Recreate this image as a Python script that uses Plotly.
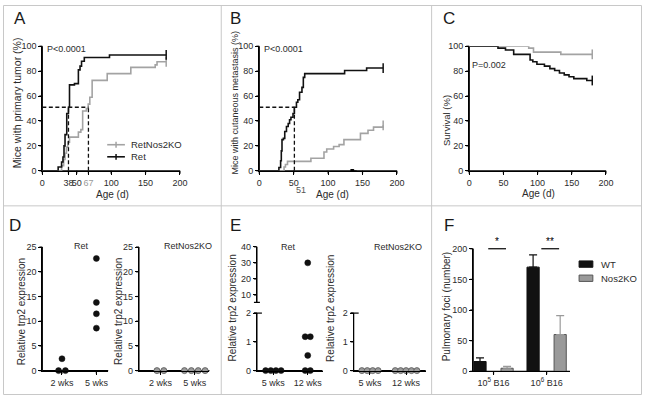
import plotly.graph_objects as go
from collections import Counter

W, H = 650, 400
FONT = "Liberation Sans, Arial, Helvetica, sans-serif"
BLACK = "#111111"
GRAY = "#a3a3a3"
MGRAY = "#9a9a9a"
TXT = "#2b2b2b"

# ---------------- data ----------------
# A: primary tumour incidence (cumulative %, step curves)
a_ret_days = [0, 23, 28, 30, 31.5, 33, 35.5, 38, 39.5, 46.7, 52.4, 54.8, 57, 61, 97.6, 180]
a_ret_pct = [0, 3, 7, 11, 20, 29, 46, 51, 69, 70, 81, 84, 88, 91, 93, 93]
a_ko_days = [0, 28, 31, 33, 35, 37, 39.5, 52.4, 56, 58.6, 64, 66.7, 69, 72.4, 94.3, 128.6, 164, 166.7, 180]
a_ko_pct = [0, 4, 9, 14, 19, 23, 27, 31, 33, 48, 50, 53.5, 59, 72.6, 78, 83, 85, 87.5, 87.5]
a_median_ret, a_median_ko, median_level = 38, 67, 51
a_xticks = [0, 38, 50, 67, 100, 150, 200]
a_xticktext = ["0", "38", "50", "<span style='color:#9a9a9a'>67</span>", "100", "150", "200"]
a_series = ["RetNos2KO", "Ret"]
age_ticks = [0, 50, 100, 150, 200]
pct_ticks = [0, 20, 40, 60, 80, 100]

# B: cutaneous metastasis
b_ret_days = [0, 28.5, 31, 32, 33, 35, 37, 39.5, 42, 44, 46, 49, 51, 54, 56, 58.5, 62, 64, 66, 124, 156, 180]
b_ret_pct = [0, 2.6, 8, 16, 25, 26, 31.5, 35.5, 38, 41, 43, 46, 51, 55, 57, 63, 67, 75, 78, 80.5, 82.5, 82.5]
b_ko_days = [0, 36, 38, 41, 75, 94, 98, 108, 116, 123, 147, 158, 166, 180]
b_ko_pct = [0, 3, 5, 7.5, 10, 15, 17.5, 19.5, 21, 25, 30, 32.5, 35, 36.5]
b_median_ret = 51

# C: survival
c_ret_days = [0, 42, 53, 65, 89, 93, 99, 110, 118, 125, 132, 139, 146, 153, 172, 180]
c_ret_pct = [100, 98.5, 97, 93.5, 89, 87.5, 85.5, 84, 82, 80.5, 78.5, 77, 75.5, 74, 72.5, 72.5]
c_ko_days = [0, 87, 94, 134, 180]
c_ko_pct = [100, 98.5, 95.3, 93.5, 93.5]

# D: relative trp2 expression
d_cats = ["2 wks", "5 wks"]
d_ret = [[2.4, 0, 0], [22.7, 13.8, 11.5, 8.6]]
d_ko = [[0, 0], [0, 0, 0, 0]]
d_yticks = [0, 5, 10, 15, 20, 25]

# E: relative trp2 expression (broken axis)
e_cats = ["5 wks", "12 wks"]
e_ret = [[0, 0, 0, 0], [30, 1.18, 1.18, 0.53, 0, 0]]
e_ko = [[0, 0, 0, 0], [0, 0, 0, 0, 0]]
e_break = 2
e_low_ticks = [0, 1, 2]
e_high_ticks = [10, 20, 30, 40]

# F: pulmonary foci
f_cats = ["10<sup>5</sup> B16", "10<sup>6</sup> B16"]
f_series = ["WT", "Nos2KO"]
f_wt = [16, 170]
f_wt_err = [6, 20]
f_ko = [5, 60]
f_ko_err = [3, 31]
f_sig = ["*", "**"]
f_yticks = [0, 50, 100, 150, 200]


def px(x):
    return x / W


def py(y):
    return 1 - y / H


def spread(vals, center, step):
    counts = Counter(vals)
    seen = Counter()
    out = []
    for v in vals:
        n = counts[v]
        k = seen[v]
        seen[v] += 1
        out.append(center + (k - (n - 1) / 2) * step)
    return out


fig = go.Figure()
NOLEG = dict(showlegend=False, hoverinfo="skip")


def km(days, pct, col, xa, ya):
    fig.add_trace(go.Scatter(x=days, y=pct, mode="lines", line=dict(color=col, width=1.6, shape="hv"),
                             xaxis=xa, yaxis=ya, cliponaxis=False, **NOLEG))
    fig.add_trace(go.Scatter(x=[days[-1]], y=[pct[-1]], mode="markers",
                             marker=dict(symbol="line-ns", size=7, line=dict(color=col, width=1.5)),
                             xaxis=xa, yaxis=ya, cliponaxis=False, **NOLEG))


km(a_ko_days, a_ko_pct, GRAY, "x", "y")
km(a_ret_days, a_ret_pct, BLACK, "x", "y")
km(b_ko_days, b_ko_pct, GRAY, "x2", "y2")
km(b_ret_days, b_ret_pct, BLACK, "x2", "y2")
km(c_ko_days, c_ko_pct, GRAY, "x3", "y3")
km(c_ret_days, c_ret_pct, BLACK, "x3", "y3")

dash = dict(color=BLACK, width=1.3, dash="4px,2.5px")
fig.add_trace(go.Scatter(x=[0, a_median_ko], y=[median_level, median_level], mode="lines", line=dash,
                         xaxis="x", yaxis="y", **NOLEG))
for m in (a_median_ret, a_median_ko):
    fig.add_trace(go.Scatter(x=[m, m], y=[0, median_level], mode="lines", line=dash,
                             xaxis="x", yaxis="y", **NOLEG))
fig.add_trace(go.Scatter(x=[0, b_median_ret], y=[median_level, median_level], mode="lines", line=dash,
                         xaxis="x2", yaxis="y2", **NOLEG))
fig.add_trace(go.Scatter(x=[b_median_ret, b_median_ret], y=[0, median_level], mode="lines", line=dash,
                         xaxis="x2", yaxis="y2", **NOLEG))

ret_marker = dict(color=BLACK, size=6, line=dict(color=BLACK, width=0.5))
ko_marker = dict(color=MGRAY, size=6, line=dict(color="#555555", width=0.8))

for groups, xa, ya, mk in [(d_ret, "x4", "y4", ret_marker), (d_ko, "x5", "y5", ko_marker)]:
    for i, vals in enumerate(groups):
        fig.add_trace(go.Scatter(x=spread(vals, i, 0.2), y=vals, mode="markers", marker=mk,
                                 xaxis=xa, yaxis=ya, cliponaxis=False, **NOLEG))

for groups, xa, ylow, yhigh, mk in [(e_ret, "x6", "y6", "y7", ret_marker), (e_ko, "x8", "y8", "y9", ko_marker)]:
    for i, vals in enumerate(groups):
        xs = spread(vals, i, 0.15)
        lo = [(x, v) for x, v in zip(xs, vals) if v <= e_break]
        hi = [(x, v) for x, v in zip(xs, vals) if v > e_break]
        if lo:
            fig.add_trace(go.Scatter(x=[p[0] for p in lo], y=[p[1] for p in lo], mode="markers", marker=mk,
                                     xaxis=xa, yaxis=ylow, cliponaxis=False, **NOLEG))
        if hi:
            fig.add_trace(go.Scatter(x=[p[0] for p in hi], y=[p[1] for p in hi], mode="markers", marker=mk,
                                     xaxis=xa, yaxis=yhigh, cliponaxis=False, **NOLEG))

fidx = list(range(len(f_cats)))
fig.add_trace(go.Bar(x=fidx, y=f_wt, width=0.23, offset=-0.37, name=f_series[0],
                     marker=dict(color=BLACK, line=dict(color=BLACK, width=1)),
                     error_y=dict(type="data", array=f_wt_err, arrayminus=[0] * len(f_wt), symmetric=False,
                                  color=BLACK, thickness=1.2, width=4),
                     xaxis="x10", yaxis="y10", **NOLEG))
fig.add_trace(go.Bar(x=fidx, y=f_ko, width=0.23, offset=0.14, name=f_series[1],
                     marker=dict(color=MGRAY, line=dict(color="#555555", width=1)),
                     error_y=dict(type="data", array=f_ko_err, arrayminus=[0] * len(f_ko), symmetric=False,
                                  color=MGRAY, thickness=1.2, width=4),
                     xaxis="x10", yaxis="y10", **NOLEG))

RANGES = {}


def ax(name, domain, rng, anchor, tickvals, **kw):
    RANGES[name] = rng
    d = dict(domain=domain, range=rng, anchor=anchor, showline=True, linecolor="#000000", linewidth=1.2,
             ticks="outside", ticklen=3, tickwidth=1.2, tickcolor="#000000", showgrid=False, zeroline=False,
             tickfont=dict(size=9, color=TXT, family=FONT), tickvals=tickvals, tickangle=0, fixedrange=True)
    d.update(kw)
    return d


top_y = [py(170), py(42.3)]
bot_y = [py(375), py(248.3)]
e_low = [py(375), py(316)]
e_high = [py(305), py(248)]

layout = dict(
    width=W, height=H, margin=dict(l=0, r=0, t=0, b=0),
    paper_bgcolor="white", plot_bgcolor="rgba(0,0,0,0)",
    font=dict(family=FONT, size=9, color=TXT),
    showlegend=False,
    xaxis=ax("x", [px(40), px(180)], [0, 200], "y", a_xticks, ticktext=a_xticktext),
    yaxis=ax("y", top_y, [0, 100], "x", pct_ticks),
    xaxis2=ax("x2", [px(260.7), px(400.7)], [0, 200], "y2", age_ticks),
    yaxis2=ax("y2", top_y, [0, 100], "x2", pct_ticks),
    xaxis3=ax("x3", [px(474.3), px(613.3)], [0, 200], "y3", age_ticks),
    yaxis3=ax("y3", top_y, [0, 100], "x3", pct_ticks),
    xaxis4=ax("x4", [px(40), px(107)], [-0.571, 1.343], "y4", [0, 1], ticktext=d_cats),
    yaxis4=ax("y4", bot_y, [0, 25], "x4", d_yticks),
    xaxis5=ax("x5", [px(138.3), px(210)], [-0.623, 1.426], "y5", [0, 1], ticktext=d_cats),
    yaxis5=ax("y5", bot_y, [0, 25], "x5", d_yticks),
    xaxis6=ax("x6", [px(258.3), px(325)], [-0.477, 1.429], "y6", [0, 1], ticktext=e_cats),
    yaxis6=ax("y6", e_low, [0, 2], "x6", e_low_ticks),
    yaxis7=ax("y7", e_high, [5.4, 40], "x6", e_high_ticks),
    xaxis8=ax("x8", [px(356.7), px(430)], [-0.452, 1.545], "y8", [0, 1], ticktext=e_cats),
    yaxis8=ax("y8", e_low, [0, 2], "x8", e_low_ticks),
    yaxis9=ax("y9", e_high, [5.4, 40], "x8", e_high_ticks),
    xaxis10=ax("x10", [px(478.3), px(576.7)], [-0.383, 1.439], "y10", fidx, ticktext=f_cats),
    yaxis10=ax("y10", [py(375.7), py(250)], [0, 200], "x10", f_yticks),
)
fig.update_layout(**layout)

ann = []


def text(x, y, s, size=9, angle=0, anchor="center", color=TXT):
    ann.append(dict(x=px(x), y=py(y), xref="paper", yref="paper", text=s, showarrow=False,
                    font=dict(size=size, color=color, family=FONT), textangle=angle,
                    xanchor=anchor, yanchor="middle"))


for lab, x, y in [("A", 17, 14), ("B", 237, 14), ("C", 454, 14), ("D", 12.5, 226), ("E", 236, 226), ("F", 454, 226)]:
    text(x, y, lab, size=17, color="#1a1a1a")

text(43, 45, "P&lt;0.0001", size=9, anchor="left")
text(263, 45, "P&lt;0.0001", size=9, anchor="left")
text(475, 62, "P=0.002", size=9, anchor="left")

text(14, 100, "Mice with primary tumor (%)", size=10.5, angle=-90)
text(235, 100, "Mice with cutaneous metastasis (%)", size=9, angle=-90)
text(450.7, 119, "Survival (%)", size=9.5, angle=-90)
text(111.7, 194, "Age (d)", size=10)
text(335, 194, "Age (d)", size=10)
text(545, 193, "Age (d)", size=10)
text(303, 189.5, str(b_median_ret), size=9, color="#555555")

text(18.3, 314, "Relative trp2 expression", size=10, angle=-90)
text(116.7, 314, "Relative trp2 expression", size=10, angle=-90)
text(233.3, 311, "Relative trp2 expression", size=10, angle=-90)
text(333.3, 311, "Relative trp2 expression", size=10, angle=-90)
text(450.7, 310, "Pulmonary foci (number)", size=10, angle=-90)

text(80, 247, "Ret", size=9)
text(188, 247, "RetNos2KO", size=9)
text(290, 248, "Ret", size=9)
text(402, 248, "RetNos2KO", size=9)

text(128.3, 143.3, a_series[0], size=9.5, anchor="left")
text(128.3, 155.7, a_series[1], size=9.5, anchor="left")
text(606.7, 265.7, f_series[0], size=9.5, anchor="left")
text(606.7, 280.3, f_series[1], size=9.5, anchor="left")

for i, s in enumerate(f_sig):
    ann.append(dict(x=i + 0.065, y=200, xref="x10", yref="y10", text=s, showarrow=False,
                    font=dict(size=10, color="#000000", family=FONT), yanchor="bottom"))

fig.update_layout(annotations=ann)

shapes = []
AXLINE = dict(color="#000000", width=1.2)


def frac(name, v):
    r0, r1 = RANGES[name]
    return (v - r0) / (r1 - r0)


def axis_shapes(xn, yn, xticks=None, yticks=None):
    """Axis lines and outside tick marks, placed through the axes' own domains/ranges."""
    if xticks is not None:
        shapes.append(dict(type="line", xref=f"{xn} domain", yref=f"{yn} domain", x0=0, x1=1, y0=0, y1=0,
                           line=AXLINE, layer="below"))
        for v in xticks:
            f = frac(xn, v)
            shapes.append(dict(type="line", xref=f"{xn} domain", yref=f"{yn} domain", x0=f, x1=f,
                               ysizemode="pixel", yanchor=0, y0=0, y1=-3, line=AXLINE, layer="below"))
    if yticks is not None:
        shapes.append(dict(type="line", xref=f"{xn} domain", yref=f"{yn} domain", x0=0, x1=0, y0=0, y1=1,
                           line=AXLINE, layer="below"))
        for v in yticks:
            f = frac(yn, v)
            shapes.append(dict(type="line", xref=f"{xn} domain", yref=f"{yn} domain", y0=f, y1=f,
                               xsizemode="pixel", xanchor=0, x0=0, x1=-3, line=AXLINE, layer="below"))


axis_shapes("x", "y", a_xticks, pct_ticks)
axis_shapes("x2", "y2", age_ticks, pct_ticks)
axis_shapes("x3", "y3", age_ticks, pct_ticks)
axis_shapes("x4", "y4", [0, 1], d_yticks)
axis_shapes("x5", "y5", [0, 1], d_yticks)
axis_shapes("x6", "y6", [0, 1], e_low_ticks)
axis_shapes("x6", "y7", None, e_high_ticks)
axis_shapes("x8", "y8", [0, 1], e_low_ticks)
axis_shapes("x8", "y9", None, e_high_ticks)
axis_shapes("x10", "y10", fidx, f_yticks)

# figure border and panel separators
shapes.append(dict(type="rect", xref="paper", yref="paper", x0=px(0.5), x1=px(649.5), y0=py(399.5), y1=py(0.5),
                   line=dict(color="#c8c8c8", width=1), layer="below"))
shapes.append(dict(type="line", xref="paper", yref="paper", x0=0, x1=1, y0=py(206), y1=py(206),
                   line=dict(color="#c8c8c8", width=1), layer="below"))
for xv in (222, 436):
    shapes.append(dict(type="line", xref="paper", yref="paper", x0=px(xv), x1=px(xv), y0=0, y1=1,
                       line=dict(color="#c8c8c8", width=1), layer="below"))
# axis break marks (E)
for xn, yl, yh in (("x6", "y6", "y7"), ("x8", "y8", "y9")):
    shapes.append(dict(type="line", xref=f"{xn} domain", yref=f"{yh} domain", xsizemode="pixel", xanchor=0,
                       x0=-3, x1=3, y0=0, y1=0, line=AXLINE))
    shapes.append(dict(type="line", xref=f"{xn} domain", yref=f"{yl} domain", xsizemode="pixel", xanchor=0,
                       x0=-3, x1=5, y0=1, y1=1, line=AXLINE))
# significance bars (F), at the top of the y range
for i in range(len(f_sig)):
    shapes.append(dict(type="line", xref="x10 domain", yref="y10 domain",
                       x0=frac("x10", i - 0.1), x1=frac("x10", i + 0.235), y0=1, y1=1, line=AXLINE))
# legend keys A
for yk, col in [(143.3, GRAY), (155.7, BLACK)]:
    shapes.append(dict(type="line", xref="paper", yref="paper", x0=px(106), x1=px(124), y0=py(yk), y1=py(yk),
                       line=dict(color=col, width=1.6)))
    shapes.append(dict(type="line", xref="paper", yref="paper", x0=px(115), x1=px(115), y0=py(yk + 3),
                       y1=py(yk - 3), line=dict(color=col, width=1.5)))
# legend keys F
for y0, y1, fill, edge in [(262.5, 269, BLACK, BLACK), (277, 283.5, MGRAY, "#555555")]:
    shapes.append(dict(type="rect", xref="paper", yref="paper", x0=px(586), x1=px(600), y0=py(y1), y1=py(y0),
                       fillcolor=fill, line=dict(color=edge, width=1)))
fig.update_layout(shapes=shapes)

fig.write_html("out.html", config={"displayModeBar": False},
               post_script="document.body.style.margin='0px';document.body.style.padding='0px';")
